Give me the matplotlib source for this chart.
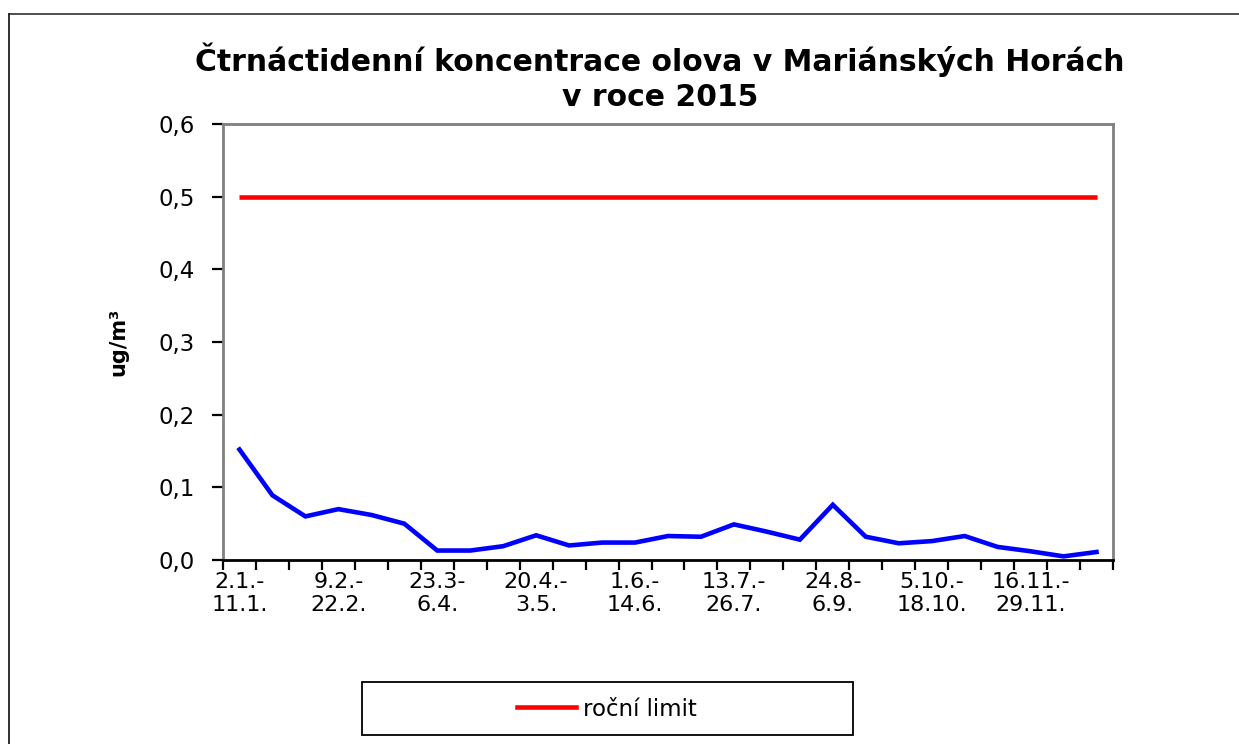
import matplotlib
matplotlib.use("Agg")
import matplotlib.pyplot as plt
from matplotlib.lines import Line2D
from matplotlib.patches import Rectangle
from matplotlib.ticker import FuncFormatter

plt.rcParams['font.family'] = ['DejaVu Sans']

categories = [
    "2.1.-\n11.1.", "12.1.-\n25.1.", "26.1.-\n8.2.", "9.2.-\n22.2.", "23.2.-\n8.3.",
    "9.3.-\n22.3.", "23.3-\n6.4.", "7.4.-\n19.4.", "21.4.-\n2.5.", "20.4.-\n3.5.",
    "4.5.-\n17.5.", "18.5.-\n31.5.", "1.6.-\n14.6.", "15.6.-\n28.6.", "29.6.-\n12.7.",
    "13.7.-\n26.7.", "27.7.-\n9.8.", "10.8.-\n23.8.", "24.8-\n6.9.", "7.9.-\n20.9.",
    "21.9.-\n4.10.", "5.10.-\n18.10.", "19.10.-\n1.11.", "2.11.-\n15.11.",
    "16.11.-\n29.11.", "30.11.-\n13.12.", "14.12.-\n27.12.",
]
lead = [0.152, 0.089, 0.060, 0.070, 0.062, 0.050, 0.013, 0.013, 0.019, 0.034,
        0.020, 0.024, 0.024, 0.033, 0.032, 0.049, 0.039, 0.028, 0.076, 0.032,
        0.023, 0.026, 0.033, 0.018, 0.012, 0.005, 0.011]
limit_value = 0.5
limit = [limit_value] * len(categories)
yticks = [0.0, 0.1, 0.2, 0.3, 0.4, 0.5, 0.6]

W, H = 1239, 744
fig = plt.figure(figsize=(W / 100, H / 100), dpi=100)
ax = fig.add_axes([223 / W, 1 - 560 / H, (1113 - 223) / W, (560 - 124) / H])

x = list(range(len(categories)))
ax.plot(x, limit, color='#ff0000', lw=3.3, solid_capstyle='butt')
ax.plot(x, lead, color='#0000ff', lw=3.3, solid_joinstyle='miter')

ax.set_xlim(-0.5, len(categories) - 0.5)
ax.set_ylim(0, 0.6)
ax.set_yticks(yticks)
ax.yaxis.set_major_formatter(FuncFormatter(lambda v, p: f"{v:.1f}".replace('.', ',')))

ax.set_xticks([i - 0.5 for i in range(len(categories) + 1)])
ax.set_xticklabels([])
ax.set_xticks(x[::3], minor=True)
ax.set_xticklabels(categories[::3], minor=True, fontsize=16, linespacing=1.15)
ax.tick_params(axis='x', which='major', direction='out', length=7, width=1.6, color='black')
ax.tick_params(axis='x', which='minor', length=0, pad=9)
ax.tick_params(axis='y', direction='out', length=8, width=1.6, pad=12, labelsize=16.5)

for s in ['top', 'right', 'left']:
    ax.spines[s].set_color('#808080')
    ax.spines[s].set_linewidth(2)
ax.spines['bottom'].set_color('#000000')
ax.spines['bottom'].set_linewidth(2)

ax.set_ylabel("ug/m³", fontsize=15, fontweight='bold', labelpad=22)

fig.text(660 / W, 1 - 77 / H, "Čtrnáctidenní koncentrace olova v Mariánských Horách\nv roce 2015",
         ha='center', va='center', fontsize=21.5, fontweight='bold', linespacing=1.28)

# outer chart border
fig.add_artist(Line2D([9 / W, 1.0], [1 - 14 / H, 1 - 14 / H], color='#404040', lw=1.3))
fig.add_artist(Line2D([9 / W, 9 / W], [0, 1 - 14 / H], color='#202020', lw=1.3))

# legend box
fig.add_artist(Rectangle((362 / W, 1 - 735 / H), (853 - 362) / W, (735 - 682) / H,
                         transform=fig.transFigure, fill=False, edgecolor='black', lw=1.3))
handle = Line2D([], [], color='#ff0000', lw=3.3)
fig.legend([handle], ["roční limit"], loc='center', bbox_to_anchor=(607 / W, 1 - 709 / H),
           frameon=False, fontsize=16.5, handlelength=2.6, handletextpad=0.3)

fig.savefig("out.png", dpi=100)
